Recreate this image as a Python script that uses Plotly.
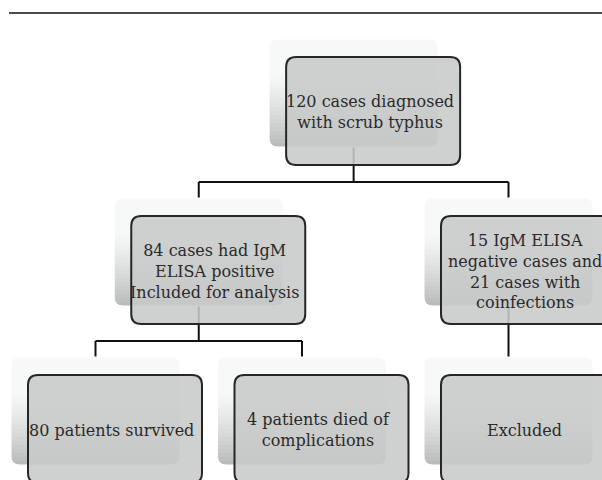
import plotly.graph_objects as go
import math

# ---- data: flowchart nodes and tree structure ----
node_labels = [
    "120 cases diagnosed<br>with scrub typhus",
    "84 cases had IgM<br>ELISA positive<br>Included for analysis",
    "15 IgM ELISA<br>negative cases and<br>21 cases with<br>coinfections",
    "80 patients survived",
    "4 patients died of<br>complications",
    "Excluded",
]
node_parent = [None, 0, 0, 1, 1, 2]

# ---- layout constants (pixels) ----
W, H = 602, 480
LEAF_X0, LEAF_DX = 95.5, 206.5
LEVEL_Y0, LEVEL_DY = 39, 159
BACK_W, BACK_H, BACK_R = 169, 108, 9
FRONT_DX, FRONT_DY, FRONT_W, FRONT_H, FRONT_R = 17, 18, 174, 108, 10
TEXT_DX = -3.5
ELBOW = 35

n = len(node_labels)
children = {i: [j for j in range(n) if node_parent[j] == i] for i in range(n)}
level = []
for i in range(n):
    d, p = 0, node_parent[i]
    while p is not None:
        d, p = d + 1, node_parent[p]
    level.append(d)

# tidy-tree x positions: leaves in order, parents centred over children
xc = [None] * n
leaf_count = [0]
def place(i):
    if not children[i]:
        xc[i] = LEAF_X0 + LEAF_DX * leaf_count[0]
        leaf_count[0] += 1
    else:
        for c in children[i]:
            place(c)
        xs = [xc[c] for c in children[i]]
        xc[i] = (min(xs) + max(xs)) / 2
place(0)
ytop = [LEVEL_Y0 + LEVEL_DY * level[i] for i in range(n)]

def rrect(x0, y0, x1, y1, r):
    return (f"M {x0+r},{y0} L {x1-r},{y0} Q {x1},{y0} {x1},{y0+r} "
            f"L {x1},{y1-r} Q {x1},{y1} {x1-r},{y1} L {x0+r},{y1} "
            f"Q {x0},{y1} {x0},{y1-r} L {x0},{y0+r} Q {x0},{y0} {x0+r},{y0} Z")

def lower_part(x0, y0, x1, y1, r, ys, steps=8):
    pts_left, pts_right = [], []
    ylist = [ys]
    cy = y1 - r
    if ys < cy:
        ylist.append(cy)
    start = max(ys, cy)
    for k in range(1, steps + 1):
        ylist.append(start + (y1 - start) * k / steps)
    for y in ylist:
        dx = r - math.sqrt(max(r * r - (y - cy) ** 2, 0)) if y > cy else 0
        pts_left.append((x0 + dx, y))
        pts_right.append((x1 - dx, y))
    pts = pts_left + pts_right[::-1]
    return "M " + " L ".join(f"{a:.2f},{b:.2f}" for a, b in pts) + " Z"

shapes = []
# header rule
shapes.append(dict(type="line", xref="x", yref="y", x0=9, x1=W, y0=13, y1=13,
                   line=dict(color="#111111", width=1.6)))

# connectors
for i in range(n):
    ch = children[i]
    if not ch:
        continue
    yb = ytop[i] + BACK_H
    yt = ytop[ch[0]]
    if len(ch) == 1:
        shapes.append(dict(type="line", xref="x", yref="y", x0=xc[i], x1=xc[i],
                           y0=yb, y1=yt, line=dict(color="#111111", width=2)))
    else:
        ym = yb + ELBOW
        shapes.append(dict(type="line", xref="x", yref="y", x0=xc[i], x1=xc[i],
                           y0=yb, y1=ym, line=dict(color="#111111", width=2)))
        xs = [xc[c] for c in ch]
        shapes.append(dict(type="line", xref="x", yref="y", x0=min(xs), x1=max(xs),
                           y0=ym, y1=ym, line=dict(color="#111111", width=2)))
        for c in ch:
            shapes.append(dict(type="line", xref="x", yref="y", x0=xc[c], x1=xc[c],
                               y0=ym, y1=yt, line=dict(color="#111111", width=2)))

# back (shadow) boxes with vertical gradient
NB = 18
c_top = (247, 248, 248)
c_bot = (186, 187, 187)
for i in range(n):
    x0 = xc[i] - BACK_W / 2
    x1 = xc[i] + BACK_W / 2
    y0 = ytop[i]
    y1 = y0 + BACK_H
    shapes.append(dict(type="path", xref="x", yref="y",
                       path=rrect(x0, y0, x1, y1, BACK_R),
                       fillcolor="rgb(%d,%d,%d)" % c_top, line=dict(width=0)))
    g0 = y0 + 0.33 * BACK_H
    for k in range(NB):
        t = (k + 1) / NB
        ys = g0 + (y1 - g0) * k / NB
        col = tuple(int(round(c_top[j] + (c_bot[j] - c_top[j]) * t ** 1.3)) for j in range(3))
        shapes.append(dict(type="path", xref="x", yref="y",
                           path=lower_part(x0, y0, x1, y1, BACK_R, ys),
                           fillcolor="rgb(%d,%d,%d)" % col, line=dict(width=0)))
    shapes.append(dict(type="path", xref="x", yref="y",
                       path=rrect(x0, y0, x1, y1, BACK_R),
                       fillcolor="rgba(0,0,0,0)", line=dict(color="#ffffff", width=1)))

# front boxes
annotations = []
for i in range(n):
    fx0 = xc[i] - BACK_W / 2 + FRONT_DX
    fy0 = ytop[i] + FRONT_DY
    fx1 = fx0 + FRONT_W
    fy1 = fy0 + FRONT_H
    shapes.append(dict(type="path", xref="x", yref="y",
                       path=rrect(fx0, fy0, fx1, fy1, FRONT_R),
                       fillcolor="rgba(200,201,201,0.88)",
                       line=dict(color="#262626", width=2)))
    annotations.append(dict(x=(fx0 + fx1) / 2 + TEXT_DX, y=(fy0 + fy1) / 2 + 1,
                            xref="x", yref="y", text=node_labels[i],
                            showarrow=False, xanchor="center", yanchor="middle",
                            align="center",
                            font=dict(family="DejaVu Serif", size=16, color="#2a2a2a")))

fig = go.Figure()
fig.update_layout(
    width=W, height=H,
    margin=dict(l=0, r=0, t=0, b=0),
    paper_bgcolor="white", plot_bgcolor="white",
    xaxis=dict(range=[0, W], visible=False, fixedrange=True),
    yaxis=dict(range=[H, 0], visible=False, fixedrange=True),
    shapes=shapes, annotations=annotations,
    showlegend=False,
)
fig.write_html("out.html", config={"displayModeBar": False},
               post_script="document.body.style.margin='0';document.body.style.overflow='hidden';")
